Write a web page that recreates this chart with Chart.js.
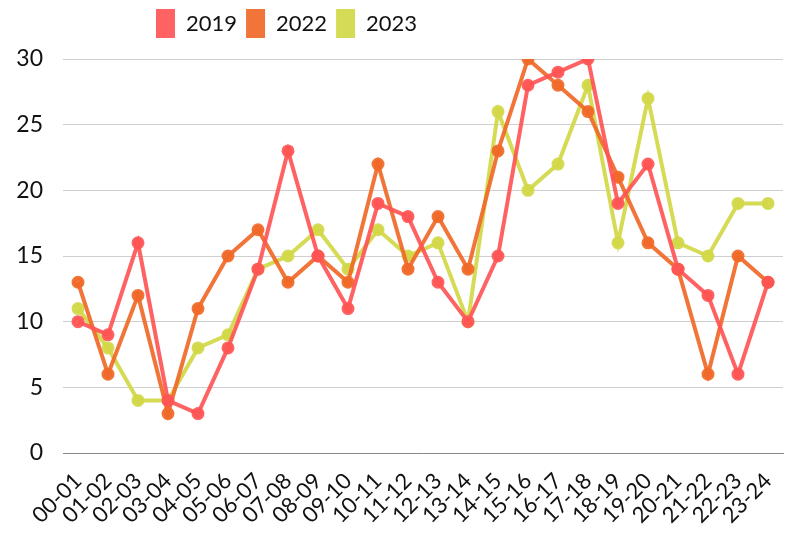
<!DOCTYPE html>
<html>
<head>
<meta charset="utf-8">
<script src="https://cdn.jsdelivr.net/npm/chart.js@4"></script>
<style>
  html, body { margin: 0; padding: 0; background: #fff; }
  #wrap { width: 794px; height: 534px; }
</style>
</head>
<body>
<div id="wrap"><canvas id="chart"></canvas></div>
<script>
// hour slots
const labels = ['00-01','01-02','02-03','03-04','04-05','05-06','06-07','07-08','08-09','09-10','10-11','11-12',
  '12-13','13-14','14-15','15-16','16-17','17-18','18-19','19-20','20-21','21-22','22-23','23-24'];

const values2019 = [10, 9, 16, 4, 3, 8, 14, 23, 15, 11, 19, 18, 13, 10, 15, 28, 29, 30, 19, 22, 14, 12, 6, 13];
const values2022 = [13, 6, 12, 3, 11, 15, 17, 13, 15, 13, 22, 14, 18, 14, 23, 30, 28, 26, 21, 16, 14, 6, 15, 13];
const values2023 = [11, 8, 4, 4, 8, 9, 14, 15, 17, 14, 17, 15, 16, 10, 26, 20, 22, 28, 16, 27, 16, 15, 19, 19];

const yTicks = [0, 5, 10, 15, 20, 25, 30];

const FONT = 'Lato, "Noto Sans", sans-serif';

// legend sits left of centre and close to the top in the original
const legendShift = {
  id: 'legendShift',
  afterLayout(chart) {
    const lg = chart.legend;
    const w = lg.right - lg.left;
    const h = lg.bottom - lg.top;
    lg.left = 147;
    lg.right = lg.left + w;
    lg.top = 0;
    lg.bottom = lg.top + h;
  }
};

function line(label, data, color) {
  return {
    label: label,
    data: data,
    borderColor: color,
    backgroundColor: color,
    pointBackgroundColor: color,
    pointBorderColor: color,
    borderWidth: 4,
    pointRadius: 4.5,
    pointHoverRadius: 4.5,
    tension: 0
  };
}

const ctx = document.getElementById('chart').getContext('2d');
new Chart(ctx, {
  type: 'line',
  data: {
    labels: labels,
    datasets: [
      line('2019', values2019, 'rgba(255, 85, 85, 0.92)'),
      line('2022', values2022, 'rgba(240, 105, 40, 0.92)'),
      line('2023', values2023, 'rgba(210, 216, 72, 0.92)')
    ]
  },
  plugins: [legendShift],
  options: {
    responsive: true,
    maintainAspectRatio: false,
    animation: false,
    layout: { padding: { left: 0, right: 11, top: 11, bottom: 0 } },
    plugins: {
      legend: {
        position: 'top',
        align: 'start',
        labels: {
          boxWidth: 19,
          boxHeight: 29,
          padding: 9,
          color: '#111',
          font: { family: FONT, size: 22 },
          generateLabels(chart) {
            return Chart.defaults.plugins.legend.labels.generateLabels(chart)
              .map(item => Object.assign(item, { lineWidth: 0 }));
          }
        }
      },
      tooltip: { enabled: false }
    },
    scales: {
      x: {
        offset: true,
        grid: { display: false },
        border: { display: true, color: '#888', width: 1 },
        ticks: {
          autoSkip: false,
          maxRotation: 45,
          minRotation: 45,
          color: '#111',
          padding: 7,
          font: { family: FONT, size: 22 }
        },
        afterFit(axis) {
          axis.paddingLeft = 0;
          axis.paddingRight = 0;
          axis.height = 81;
        }
      },
      y: {
        min: 0,
        max: 30,
        afterBuildTicks(axis) {
          axis.ticks = yTicks.map(v => ({ value: v }));
        },
        afterFit(axis) {
          axis.width = 63;
        },
        grid: { color: '#cfcfcf', lineWidth: 1, drawTicks: false },
        border: { display: false },
        ticks: {
          color: '#111',
          padding: 20,
          font: { family: FONT, size: 23 }
        }
      }
    }
  }
});
</script>
</body>
</html>
